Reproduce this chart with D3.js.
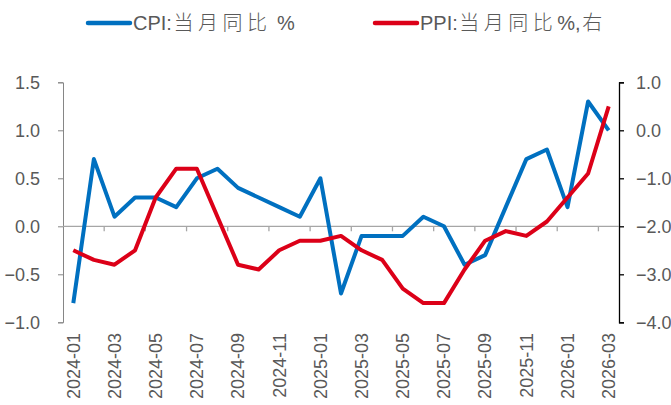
<!DOCTYPE html>
<html><head><meta charset="utf-8">
<script src="https://cdn.jsdelivr.net/npm/d3@7"></script>
<style>
html,body{margin:0;padding:0;background:#fff;}
svg{display:block;}
text{font-family:"Liberation Sans",Arial,"Noto Sans CJK SC",sans-serif;fill:#595959;}
</style></head>
<body>
<svg id="chart" width="671" height="405"></svg>
<script>
const months = ["2024-01","2024-02","2024-03","2024-04","2024-05","2024-06","2024-07","2024-08","2024-09","2024-10","2024-11","2024-12",
"2025-01","2025-02","2025-03","2025-04","2025-05","2025-06","2025-07","2025-08","2025-09","2025-10","2025-11","2025-12",
"2026-01","2026-02","2026-03"];
const cpi = [-0.8,0.7,0.1,0.3,0.3,0.2,0.5,0.6,0.4,0.3,0.2,0.1,0.5,-0.7,-0.1,-0.1,-0.1,0.1,0.0,-0.4,-0.3,0.2,0.7,0.8,0.2,1.3,1.0];
const ppi = [-2.5,-2.7,-2.8,-2.5,-1.4,-0.8,-0.8,-1.8,-2.8,-2.9,-2.5,-2.3,-2.3,-2.2,-2.5,-2.7,-3.3,-3.6,-3.6,-2.9,-2.3,-2.1,-2.2,-1.9,-1.4,-0.9,0.5];
const leftTicks = [-1.0,-0.5,0.0,0.5,1.0,1.5];
const rightTicks = [-4.0,-3.0,-2.0,-1.0,0.0,1.0];
const seriesNames = ["CPI:当月同比 %","PPI:当月同比%,右"];
const colors = ["#0070C0","#DC0018"];

const svg = d3.select("#chart");
const L = 63, R = 619, T = 82.3, B = 322.3;
const x = d3.scaleBand().domain(months).range([L,R]).padding(0);
const yL = d3.scaleLinear().domain([-1,1.5]).range([B,T]);
const yR = d3.scaleLinear().domain([-4,1]).range([B,T]);

// left axis
const gl = svg.append("g").attr("transform",`translate(${L},0)`)
  .call(d3.axisLeft(yL).tickValues(leftTicks).tickFormat(d3.format(".1f")).tickSizeInner(5).tickSizeOuter(5).tickPadding(18));
gl.select(".domain").attr("stroke","#868686").attr("stroke-width",1);
gl.selectAll(".tick line").attr("stroke","#868686");
gl.selectAll("text").attr("font-size",18).attr("fill","#595959").attr("font-family","'Liberation Sans',Arial,sans-serif");

// right axis
const gr = svg.append("g").attr("transform",`translate(${R},0)`)
  .call(d3.axisRight(yR).tickValues(rightTicks).tickFormat(d3.format(".1f")).tickSizeInner(5).tickSizeOuter(5).tickPadding(12));
gr.select(".domain").attr("stroke","#000").attr("stroke-width",1.3);
gr.selectAll(".tick line").attr("stroke","#000").attr("stroke-width",1.3);
gr.selectAll("text").attr("font-size",18).attr("fill","#595959").attr("font-family","'Liberation Sans',Arial,sans-serif");

// x axis at zero
const y0 = yL(0);
const tickMonths = months.filter((m,i)=> i>0 && i%2===0);
const gx = svg.append("g");
gx.append("line").attr("x1",L).attr("x2",R).attr("y1",y0).attr("y2",y0).attr("stroke","#A6A6A6").attr("stroke-width",1.3);
gx.selectAll("line.tk").data(tickMonths).join("line").attr("class","tk")
  .attr("x1",d=>x(d)).attr("x2",d=>x(d)).attr("y1",y0).attr("y2",y0+5)
  .attr("stroke","#A6A6A6").attr("stroke-width",1.3);

// x labels
const labelMonths = months.filter((m,i)=> i%2===0);
svg.append("g").selectAll("text").data(labelMonths).join("text")
  .attr("transform",d=>`translate(${x(d)+x.bandwidth()/2},333) rotate(-90)`)
  .attr("text-anchor","end").attr("dy","0.35em")
  .attr("font-size",18).text(d=>d);

// lines
const lineL = d3.line().x((d,i)=>x(months[i])+x.bandwidth()/2).y(d=>yL(d));
const lineR = d3.line().x((d,i)=>x(months[i])+x.bandwidth()/2).y(d=>yR(d));
svg.append("path").datum(cpi).attr("d",lineL).attr("fill","none").attr("stroke",colors[0]).attr("stroke-width",4).attr("stroke-linejoin","round");
svg.append("path").datum(ppi).attr("d",lineR).attr("fill","none").attr("stroke",colors[1]).attr("stroke-width",4).attr("stroke-linejoin","round");

// legend
const legendX = [88,375];
const lg = svg.append("g");
seriesNames.forEach((n,i)=>{
  lg.append("line").attr("x1",legendX[i]).attr("x2",legendX[i]+42).attr("y1",23).attr("y2",23)
    .attr("stroke",colors[i]).attr("stroke-width",4.5).attr("stroke-linecap","round");
  const t = lg.append("text").attr("x",legendX[i]+45).attr("y",23).attr("dy","0.35em").attr("font-size",20);
  const runs = n.match(/[\u4e00-\u9fff]+|[^\u4e00-\u9fff]+/g);
  runs.forEach(r=>{
    const cjk = /[\u4e00-\u9fff]/.test(r);
    const s = t.append("tspan").text(r);
    if(cjk) s.attr("letter-spacing",4.5).attr("font-weight",300).attr("font-family","'Noto Sans CJK SC',sans-serif").attr("dx",1.5);
  });
});
</script>
</body></html>
